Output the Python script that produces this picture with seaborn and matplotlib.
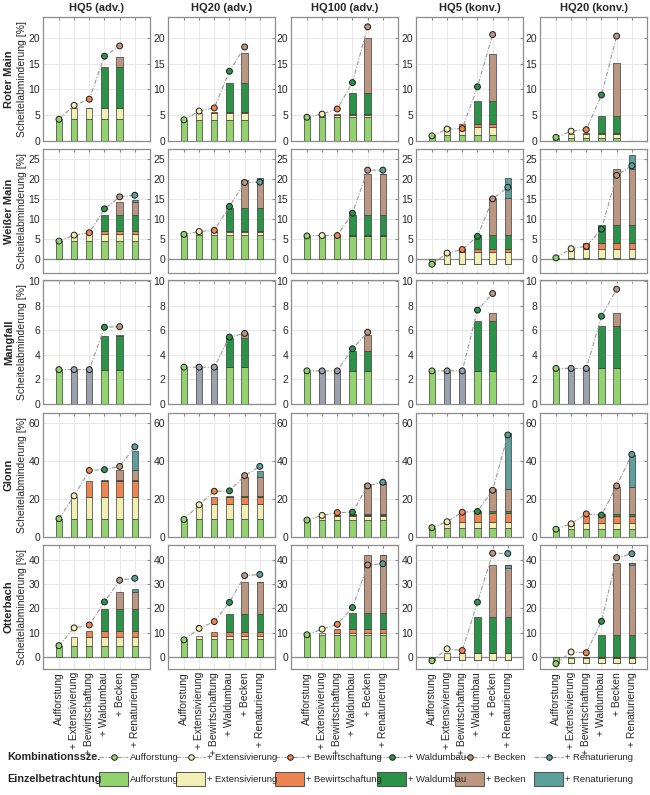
import numpy as np
import pandas as pd
import matplotlib
matplotlib.use("Agg")
import matplotlib.pyplot as plt
import seaborn as sns
from matplotlib.lines import Line2D
from matplotlib.patches import Rectangle

nan = np.nan

scenarios = ["HQ5 (adv.)", "HQ20 (adv.)", "HQ100 (adv.)", "HQ5 (konv.)", "HQ20 (konv.)"]
measures = ["Aufforstung", "+ Extensivierung", "+ Bewirtschaftung",
            "+ Waldumbau", "+ Becken", "+ Renaturierung"]
catchments = ["Roter Main", "Weißer Main", "Mangfall", "Glonn", "Otterbach"]

# Einzelbetrachtung: effect of each single measure (stacked), one row per scenario
roter_main_single = [[4.2, 2.1, 0.1, 7.9, 2.0, nan],
                     [4.1, 1.3, 0.2, 5.7, 5.8, nan],
                     [4.6, 0.5, 0.1, 4.1, 10.6, nan],
                     [1.1, 1.6, 0.6, 4.5, 9.0, nan],
                     [0.6, 0.8, 0.1, 3.3, 10.3, nan]]
weisser_main_single = [[4.5, 1.9, 0.6, 4.1, 3.3, 0.5],
                       [6.1, 0.7, 0.2, 5.9, 7.0, 0.4],
                       [5.7, 0.2, 0.1, 5.1, 10.3, 0.0],
                       [-1.2, 3.0, 0.8, 3.4, 9.2, 5.2],
                       [0.3, 2.2, 1.4, 4.7, 14.1, 3.4]]
mangfall_single = [[2.8, nan, nan, 2.75, 0.05, nan],
                   [3.0, nan, nan, 2.4, 0.4, nan],
                   [2.65, nan, nan, 1.7, 1.25, nan],
                   [2.7, nan, nan, 4.1, 0.65, nan],
                   [2.9, nan, nan, 3.45, 1.1, nan]]
glonn_single = [[9.6, 11.3, 8.7, 0.1, 5.6, 9.6],
                [9.2, 8.2, 3.6, 0.3, 9.9, 3.5],
                [9.0, 2.2, 0.5, 0.6, 15.7, 1.0],
                [4.9, 3.0, 4.8, 0.9, 11.6, 29.2],
                [4.0, 3.2, 4.0, 0.6, 14.5, 16.8]]
otterbach_single = [[4.5, 3.7, 2.4, 8.9, 7.1, 1.4],
                    [7.2, 1.4, 1.6, 7.5, 13.1, -0.2],
                    [9.0, 1.0, 1.3, 6.6, 24.1, -0.3],
                    [-1.5, 2.9, 0.1, 14.9, 21.3, -1.0],
                    [-2.7, 2.4, 0.05, 9.4, 29.5, -0.9]]

# Kombinationsszenarien: simulated effect of the combined measures
roter_main_combo = [[4.2, 6.9, 8.1, 16.4, 18.4, nan],
                    [4.1, 5.8, 6.4, 13.5, 18.2, nan],
                    [4.6, 5.2, 6.2, 11.3, 22.1, nan],
                    [1.0, 2.3, 2.4, 10.5, 20.6, nan],
                    [0.7, 1.9, 2.2, 8.9, 20.3, nan]]
weisser_main_combo = [[4.5, 6.0, 6.6, 12.6, 15.6, 16.0],
                      [6.2, 6.9, 7.2, 13.2, 19.2, 19.3],
                      [5.8, 5.9, 5.9, 11.5, 22.3, 22.3],
                      [-1.3, 1.5, 2.4, 5.7, 15.1, 18.0],
                      [0.3, 2.6, 3.2, 7.5, 21.0, 23.4]]
mangfall_combo = [[2.8, 2.8, 2.8, 6.25, 6.3, nan],
                  [3.0, 3.0, 3.0, 5.45, 5.75, nan],
                  [2.7, 2.7, 2.7, 4.5, 5.85, nan],
                  [2.7, 2.7, 2.7, 7.65, 9.0, nan],
                  [2.9, 2.9, 2.9, 7.15, 9.35, nan]]
glonn_combo = [[9.6, 21.6, 34.9, 35.3, 37.0, 47.3],
               [9.2, 16.9, 24.0, 24.2, 32.2, 37.0],
               [8.9, 11.3, 12.8, 13.0, 26.8, 28.7],
               [4.9, 8.0, 13.0, 13.4, 24.5, 53.5],
               [4.1, 6.9, 12.1, 11.5, 26.8, 43.3]]
otterbach_combo = [[4.6, 11.9, 13.1, 22.6, 31.5, 32.3],
                   [7.0, 11.7, 14.5, 22.4, 33.4, 33.9],
                   [9.1, 11.4, 13.4, 20.3, 37.8, 38.3],
                   [-1.6, 3.3, 2.6, 22.5, 42.6, 42.5],
                   [-2.8, 2.0, 1.7, 14.6, 40.8, 42.4]]

row_ylims = [(0, 24), (-3.5, 27.6), (0, 10.1), (0, 65), (-5, 46)]
row_yticks = [[0, 5, 10, 15, 20], [0, 5, 10, 15, 20, 25], [0, 2, 4, 6, 8, 10],
              [0, 20, 40, 60], [0, 10, 20, 30, 40]]

single = dict(zip(catchments, [roter_main_single, weisser_main_single, mangfall_single,
                               glonn_single, otterbach_single]))
combo = dict(zip(catchments, [roter_main_combo, weisser_main_combo, mangfall_combo,
                              glonn_combo, otterbach_combo]))

colors = ["#92d36e", "#f2efb4", "#ec8551", "#2b9347", "#bb9782", "#5c9f9b"]
GRAY = "#9ca2ad"
EDGE = "#3c3c3c"
FRAME = "#8c8c8c"
BW = 0.42
palette = dict(zip(measures, colors))
palette["n/a"] = GRAY

# long table of the combination scenarios for seaborn
rows = []
for c in catchments:
    for s_i, sc in enumerate(scenarios):
        for j, m in enumerate(measures):
            rows.append(dict(catchment=c, scenario=sc, pos=j + 1,
                             value=combo[c][s_i][j],
                             key="n/a" if np.isnan(single[c][s_i][j]) else m))
df = pd.DataFrame(rows)

sns.set_style("whitegrid")
plt.rcParams["font.family"] = ["Liberation Sans", "DejaVu Sans"]

W, H = 650, 795
fig = plt.figure(figsize=(W / 100, H / 100), dpi=100)

col_left = [43, 168, 291, 416, 540]
row_top = [17, 149, 280, 413, 545]
AX_W, AX_H = 107, 124


def draw_bars(ax, layers, combos):
    for j in range(6):
        x = j + 1
        if np.isnan(combos[j]):
            ax.bar(x, 0, width=BW, color="none", edgecolor="#808080", lw=0.8, zorder=2)
            continue
        if np.isnan(layers[j]):
            h = np.nansum(layers[:j + 1])
            ax.bar(x, h, width=BW, color=GRAY, edgecolor=EDGE, lw=0.5, zorder=2)
            continue
        base = 0.0
        for k in range(j + 1):
            v = layers[k]
            if np.isnan(v):
                continue
            ax.bar(x, v, bottom=base, width=BW, color=colors[k],
                   edgecolor=EDGE, lw=0.5, zorder=2)
            base += v


for r, c in enumerate(catchments):
    for s_i, sc in enumerate(scenarios):
        ax = fig.add_axes([col_left[s_i] / W, 1 - (row_top[r] + AX_H) / H,
                           AX_W / W, AX_H / H])
        ax.set_axisbelow(True)
        draw_bars(ax, single[c][s_i], combo[c][s_i])
        if row_ylims[r][0] < 0:
            ax.axhline(0, color=FRAME, lw=0.9, zorder=1)

        sub = df[(df.catchment == c) & (df.scenario == sc)].dropna(subset=["value"])
        sns.lineplot(data=sub, x="pos", y="value", ax=ax, color="#9a9a9a", lw=0.8,
                     linestyle=(0, (4, 1.5, 1, 1.5)), legend=False, zorder=3)
        sns.scatterplot(data=sub, x="pos", y="value", hue="key", palette=palette,
                        ax=ax, s=18, edgecolor="#1a1a1a", linewidth=0.7,
                        legend=False, zorder=4)

        ax.set_xlim(-0.05, 7)
        ax.set_ylim(*row_ylims[r])
        ax.set_xticks(range(1, 7))
        ax.set_yticks(row_yticks[r])
        ax.grid(True, color="#e4e4e4", lw=0.6)
        for sp in ax.spines.values():
            sp.set_color(FRAME)
            sp.set_linewidth(0.9)
        ax.tick_params(direction="in", length=2.5, color=FRAME, top=True, right=True,
                       labelsize=7.5, labelcolor="#262626", pad=2)
        ax.set_xlabel("")
        ax.set_ylabel("")
        if r == len(catchments) - 1:
            ax.set_xticklabels(measures, rotation=90, fontsize=7.5)
        else:
            ax.set_xticklabels([])
        if r == 0:
            ax.set_title(sc, fontsize=8, fontweight="bold", pad=4)
        if s_i == 0:
            ax.text(-0.32, 0.5, c, transform=ax.transAxes, rotation=90, ha="center",
                    va="center", fontsize=8, fontweight="bold")
            ax.text(-0.195, 0.5, "Scheitelabminderung [%]", transform=ax.transAxes,
                    rotation=90, ha="center", va="center", fontsize=7.5)

# legend rows at the bottom
def fx(x):
    return x / W


def fy(y):
    return 1 - y / H


leg_x = [99, 176, 275, 377, 455, 534]
leg_font = ["Liberation Sans Narrow", "Liberation Sans"]
y1, y2 = 757, 779
fig.text(fx(7), fy(y1), "Kombinationssze.", fontsize=7.8, fontweight="bold", va="center")
fig.text(fx(7), fy(y2), "Einzelbetrachtung", fontsize=7.8, fontweight="bold", va="center")
for i, m in enumerate(measures):
    x0 = leg_x[i]
    fig.add_artist(Line2D([fx(x0), fx(x0 + 29)], [fy(y1), fy(y1)],
                          transform=fig.transFigure, color="#9a9a9a", lw=0.8,
                          linestyle=(0, (4, 1.5, 1, 1.5))))
    fig.add_artist(Line2D([fx(x0 + 14.5)], [fy(y1)], transform=fig.transFigure,
                          marker="o", markersize=4, markerfacecolor=colors[i],
                          markeredgecolor="#1a1a1a", markeredgewidth=0.7, lw=0))
    fig.text(fx(x0 + 31), fy(y1), m, fontsize=6.8, va="center", family=leg_font)
    fig.add_artist(Rectangle((fx(x0), fy(y2 + 7)), fx(29), 14 / H,
                             transform=fig.transFigure, facecolor=colors[i],
                             edgecolor=EDGE, lw=0.6))
    fig.text(fx(x0 + 31), fy(y2), m, fontsize=6.8, va="center", family=leg_font)

fig.savefig("out.png", dpi=100)
